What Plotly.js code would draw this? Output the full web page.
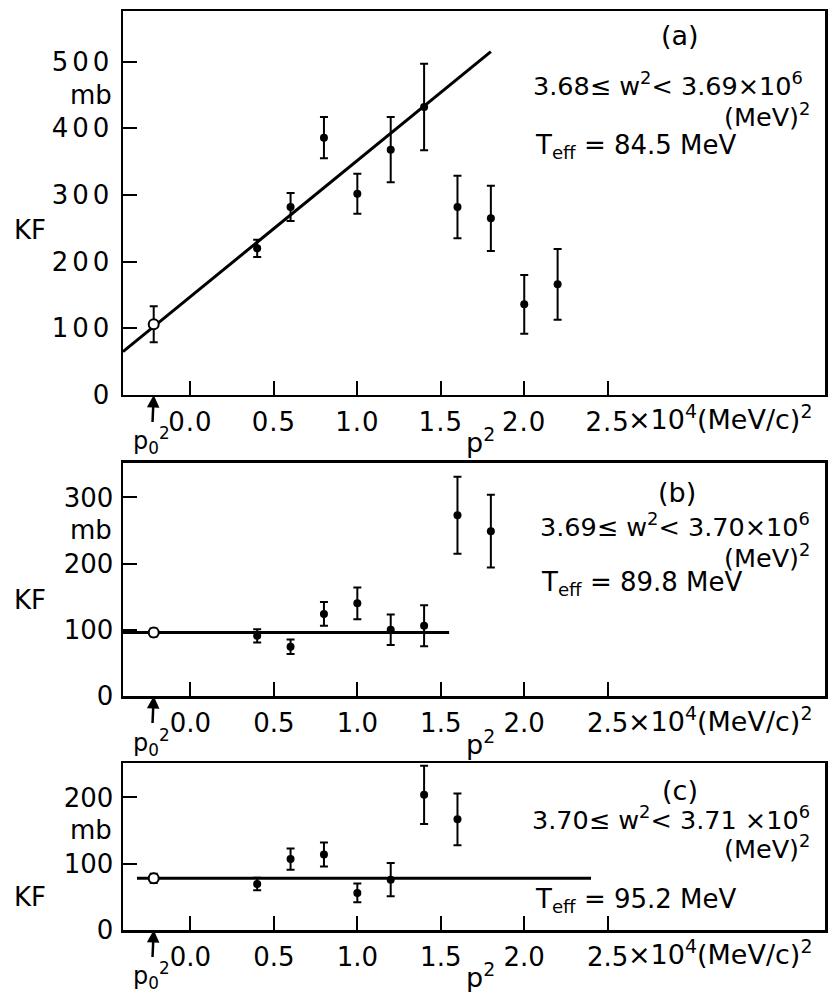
<!DOCTYPE html>
<html>
<head>
<meta charset="utf-8">
<script src="https://cdn.plot.ly/plotly-3.0.1.min.js"></script>
<style>
  html, body { margin: 0; padding: 0; background: #fff; }
  #chart .ytick text { letter-spacing: 4px; }
  #chart .xtick text { letter-spacing: 1px; }
</style>
</head>
<body>
<div id="chart" style="width:829px;height:992px;"></div>
<script>
// ---- data ----
const xTickVals = [0, 0.5, 1.0, 1.5, 2.0, 2.5];
const xTickText = ['0.0', '0.5', '1.0', '1.5', '2.0', '2.5'];
const p0sq = -0.22;

// panel (a)
const aX = [0.4, 0.6, 0.8, 1.0, 1.2, 1.4, 1.6, 1.8, 2.0, 2.2];
const aY = [220, 282, 386, 302, 368, 432, 282, 265, 136, 166];
const aErr = [13, 21, 31, 30, 49, 65, 47, 49, 44, 53];
const aOpenY = [106];
const aOpenErr = [27];
const aFitX = [-0.404, 1.80];
const aFitY = [65, 515];

// panel (b)
const bX = [0.4, 0.6, 0.8, 1.0, 1.2, 1.4, 1.6, 1.8];
const bY = [91, 74.5, 124, 140, 100, 106, 273, 249];
const bErr = [10, 11, 18, 24, 23, 31, 58, 55];
const bOpenY = [96];
const bOpenErr = [6];
const bFitX = [-0.404, 1.55];
const bFitY = [96, 96];

// panel (c)
const cX = [0.4, 0.6, 0.8, 1.0, 1.2, 1.4, 1.6];
const cY = [69.5, 107, 114, 56, 76, 204, 167];
const cErr = [9.5, 16, 18, 14, 25, 44, 39];
const cOpenY = [78];
const cOpenErr = [7];
const cFitX = [-0.32, 2.40];
const cFitY = [78, 78];

const panelLabels = ['(a)', '(b)', '(c)'];
const wRanges = [
  '3.68\u2264 w<sup>2</sup>< 3.69\u00d710<sup>6</sup>',
  '3.69\u2264 w<sup>2</sup>< 3.70\u00d710<sup>6</sup>',
  '3.70\u2264 w<sup>2</sup>< 3.71 \u00d710<sup>6</sup>'
];
const teffVals = ['84.5', '89.8', '95.2'];
const yTickSets = [[0, 100, 200, 300, 400, 500], [0, 100, 200, 300], [0, 100, 200]];

// ---- build ----
const FONT = 'DejaVu Sans, sans-serif';
const panels = [
  {x: aX, y: aY, e: aErr, oy: aOpenY, oe: aOpenErr, fx: aFitX, fy: aFitY, xa: 'x', ya: 'y'},
  {x: bX, y: bY, e: bErr, oy: bOpenY, oe: bOpenErr, fx: bFitX, fy: bFitY, xa: 'x2', ya: 'y2'},
  {x: cX, y: cY, e: cErr, oy: cOpenY, oe: cOpenErr, fx: cFitX, fy: cFitY, xa: 'x3', ya: 'y3'}
];

const traces = [];
panels.forEach(p => {
  traces.push({x: p.fx, y: p.fy, xaxis: p.xa, yaxis: p.ya, mode: 'lines',
    line: {color: 'black', width: 3}, hoverinfo: 'skip', showlegend: false, cliponaxis: false});
  traces.push({x: p.x, y: p.y, xaxis: p.xa, yaxis: p.ya, mode: 'markers',
    marker: {color: 'black', size: 8, symbol: 'circle'},
    error_y: {type: 'data', array: p.e, visible: true, color: 'black', thickness: 2, width: 4},
    showlegend: false, cliponaxis: false});
  traces.push({x: [p0sq], y: p.oy, xaxis: p.xa, yaxis: p.ya, mode: 'markers',
    marker: {color: 'white', size: 10, symbol: 'circle', line: {color: 'black', width: 2}},
    error_y: {type: 'data', array: p.oe, visible: true, color: 'black', thickness: 2, width: 4},
    showlegend: false, cliponaxis: false});
});

const xRange = [-0.404, 3.802];
function xAxis(anchor) {
  return {anchor: anchor, range: xRange, tickmode: 'array', tickvals: xTickVals, ticktext: xTickText,
    ticks: 'inside', ticklen: 14, tickwidth: 2, tickcolor: 'black',
    showline: true, linecolor: 'black', linewidth: 2.5, mirror: true,
    showgrid: false, zeroline: false, ticklabelstandoff: 2,
    tickfont: {family: FONT, size: 26, color: 'black'}};
}
function yAxis(anchor, domain, range, ticks) {
  return {anchor: anchor, domain: domain, range: range, tickmode: 'array', tickvals: ticks,
    ticks: 'inside', ticklen: 14, tickwidth: 2, tickcolor: 'black',
    showline: true, linecolor: 'black', linewidth: 2.5, mirror: true,
    showgrid: false, zeroline: false, ticklabelstandoff: 2,
    tickfont: {family: FONT, size: 26, color: 'black'}};
}

const yDomains = [[0.5822, 1], [0.2546, 0.5082], [0, 0.1817]];
const yRanges = [[0, 576], [0, 352], [0, 252]];

// text positions per panel (data coords of each panel)
const pos = [
  {lab: [2.934, 540], w: [2.040, 466], mev: [3.725, 420], t: [2.050, 372], mb: 450, kf: 247},
  {lab: [2.916, 308], w: [2.080, 259], mev: [3.725, 212], t: [2.090, 170], mb: 250, kf: 145},
  {lab: [2.934, 211], w: [2.036, 169], mev: [3.725, 125], t: [2.050, 45], mb: 151, kf: 50}
];

const annotations = [];
const tf = (s) => ({family: FONT, size: s, color: 'black'});
panels.forEach((p, i) => {
  const q = pos[i];
  annotations.push({xref: p.xa, yref: p.ya, x: q.lab[0], y: q.lab[1], text: panelLabels[i],
    showarrow: false, xanchor: 'center', yanchor: 'middle', font: tf(27)});
  annotations.push({xref: p.xa, yref: p.ya, x: q.w[0], y: q.w[1], text: wRanges[i],
    showarrow: false, xanchor: 'left', yanchor: 'middle', font: tf(25.5)});
  annotations.push({xref: p.xa, yref: p.ya, x: q.mev[0], y: q.mev[1], text: '(MeV)<sup>2</sup>',
    showarrow: false, xanchor: 'right', yanchor: 'middle', font: tf(25.5)});
  annotations.push({xref: p.xa, yref: p.ya, x: q.t[0], y: q.t[1],
    text: 'T<sub>eff</sub> = ' + teffVals[i] + ' MeV',
    showarrow: false, xanchor: 'left', yanchor: 'middle', font: tf(26)});
  // mb and KF
  annotations.push({xref: 'paper', yref: p.ya, x: -0.013, y: q.mb, text: 'mb',
    showarrow: false, xanchor: 'right', yanchor: 'middle', font: tf(26)});
  annotations.push({xref: 'paper', yref: p.ya, x: -0.158, y: q.kf, text: 'KF',
    showarrow: false, xanchor: 'left', yanchor: 'middle', font: tf(26)});
  // units after 2.5
  annotations.push({xref: p.xa, yref: p.ya, x: 2.612, y: 0, yshift: -23, text: '\u00d710<sup>4</sup>(MeV/c)<sup>2</sup>',
    showarrow: false, xanchor: 'left', yanchor: 'middle', font: tf(27)});
  // p^2
  annotations.push({xref: p.xa, yref: p.ya, x: 1.737, y: 0, yshift: -46, text: 'p<sup>2</sup>',
    showarrow: false, xanchor: 'center', yanchor: 'middle', font: tf(27)});
  // p0^2 arrow
  annotations.push({xref: p.xa, yref: p.ya, x: p0sq, y: 0, text: 'p<sub>0</sub><sup>2</sup>',
    showarrow: true, arrowhead: 2, arrowsize: 1, arrowwidth: 2.5, arrowcolor: 'black',
    ax: -2, ay: 46, standoff: 0, startstandoff: 0, font: tf(24)});
});

const layout = {
  width: 829, height: 992,
  margin: {l: 122.5, r: 4, t: 11, b: 62},
  paper_bgcolor: 'white', plot_bgcolor: 'white',
  showlegend: false,
  font: {family: FONT, color: 'black'},
  xaxis: xAxis('y'), xaxis2: xAxis('y2'), xaxis3: xAxis('y3'),
  yaxis: yAxis('x', yDomains[0], yRanges[0], yTickSets[0]),
  yaxis2: yAxis('x2', yDomains[1], yRanges[1], yTickSets[1]),
  yaxis3: yAxis('x3', yDomains[2], yRanges[2], yTickSets[2]),
  annotations: annotations
};

Plotly.newPlot('chart', traces, layout, {displayModeBar: false, staticPlot: true});
</script>
</body>
</html>
